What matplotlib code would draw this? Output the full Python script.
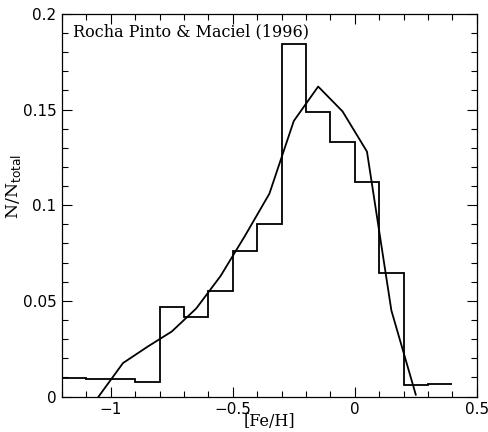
import matplotlib
matplotlib.use("Agg")
import matplotlib.pyplot as plt
from matplotlib.ticker import MultipleLocator
import numpy as np

# histogram of [Fe/H], bins of 0.1 dex
bin_edges = [-1.2, -1.1, -1.0, -0.9, -0.8, -0.7, -0.6, -0.5, -0.4, -0.3,
             -0.2, -0.1, 0.0, 0.1, 0.2, 0.3, 0.4]
hist_vals = [0.0099, 0.0093, 0.0091, 0.0078, 0.047, 0.0415, 0.055, 0.076,
             0.090, 0.184, 0.1488, 0.1328, 0.112, 0.0645, 0.0058, 0.0066]

# smooth model curve
curve_x = [-1.05, -0.95, -0.85, -0.75, -0.65, -0.55, -0.45, -0.35, -0.25,
           -0.15, -0.05, 0.05, 0.15, 0.25]
curve_y = [0.0, 0.0175, 0.026, 0.034, 0.046, 0.063, 0.084, 0.106, 0.144,
           0.162, 0.149, 0.128, 0.045, 0.001]

plt.rcParams['font.family'] = 'DejaVu Sans'

fig = plt.figure(figsize=(4.88, 4.32), dpi=100)
ax = fig.add_axes([0.127, 0.082, 0.850, 0.886])

ax.stairs(hist_vals, bin_edges, baseline=None, color='black', lw=1.3)
ax.plot(curve_x, curve_y, color='black', lw=1.3)

ax.set_xlim(-1.2, 0.5)
ax.set_ylim(0, 0.2)
ax.xaxis.set_minor_locator(MultipleLocator(0.1))
ax.yaxis.set_minor_locator(MultipleLocator(0.01))
ax.tick_params(which='both', direction='in', top=True, right=True, width=0.8)
ax.tick_params(which='major', length=7, labelsize=11, pad=4)
ax.tick_params(which='minor', length=4)
ax.set_xticks([-1, -0.5, 0, 0.5])
ax.set_xticklabels(['\u22121', '\u22120.5', '0', '0.5'])
ax.set_yticks([0, 0.05, 0.1, 0.15, 0.2])
ax.set_yticklabels(['0', '0.05', '0.1', '0.15', '0.2'])
for s in ax.spines.values():
    s.set_linewidth(0.9)

ax.set_xlabel('[Fe/H]', family='DejaVu Serif', fontsize=11.5)
ax.xaxis.set_label_coords(0.5, -0.043)
ax.set_ylabel(r'N/N$_{\mathrm{total}}$', family='DejaVu Serif', fontsize=12.5)
ax.yaxis.set_label_coords(-0.095, 0.55)

ax.text(0.027, 0.975, 'Rocha Pinto & Maciel (1996)', transform=ax.transAxes,
        ha='left', va='top', family='DejaVu Serif', fontsize=11.5)

fig.savefig('out.png', dpi=100)
